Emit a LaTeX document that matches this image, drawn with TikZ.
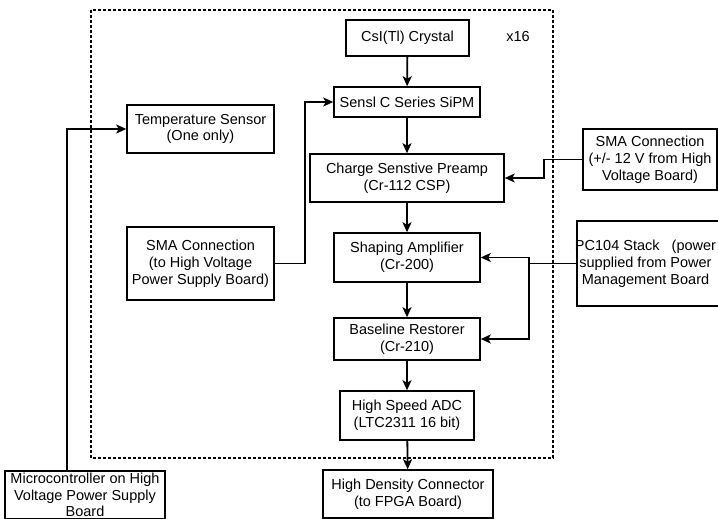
\documentclass[tikz,border=0pt]{standalone}
\usepackage{fontspec}
\setmainfont{Liberation Sans}
\usetikzlibrary{arrows.meta}
\begin{document}
\begin{tikzpicture}[x=1pt,y=-1pt,
  box/.style={draw, line width=1.5pt, inner sep=0pt, align=center, font=\fontsize{14.5}{16.8}\selectfont},
  lbl/.style={inner sep=0pt, align=center, font=\fontsize{14.5}{16.8}\selectfont},
  arr/.style={line width=1.8pt, -{Stealth[length=10pt,width=9pt,inset=2.5pt]}},
  wire/.style={line width=1.8pt},
  frame/.style={line width=1.3pt, dash pattern=on 3pt off 2pt}]
\useasboundingbox (0,0) rectangle (718,519);
\draw[frame] (91,10) rectangle (553,458);

\node[box, minimum width=123pt, minimum height=36pt] (csi) at (407.5,38) {CsI(Tl) Crystal};
\node[lbl] (x16) at (518,37) {x16};
\node[box, minimum width=146pt, minimum height=30pt] (sipm) at (407,102) {Sensl C Series SiPM};
\node[box, minimum width=194pt, minimum height=48pt] (csp) at (407,178) {Charge Senstive Preamp\\(Cr-112 CSP)};
\node[box, minimum width=146pt, minimum height=49pt] (shape) at (407,257.5) {Shaping Amplifier\\(Cr-200)};
\node[box, minimum width=146pt, minimum height=42pt] (blr) at (407,339) {Baseline Restorer\\(Cr-210)};
\node[box, minimum width=134pt, minimum height=49pt] (adc) at (407,415.5) {High Speed ADC\\(LTC2311 16 bit)};
\node[box, minimum width=170pt, minimum height=48pt] (hd) at (408,494) {High Density Connector\\(to FPGA Board)};

\node[box, minimum width=147pt, minimum height=48pt] (temp) at (200.5,129) {Temperature Sensor\\(One only)};
\node[box, minimum width=147pt, minimum height=73pt] (smal) at (200.5,263.5) {SMA Connection\\(to High Voltage\\Power Supply Board)};
\node[box, minimum width=160pt, minimum height=48pt] (micro) at (85,495) {Microcontroller on High\\Voltage Power Supply\\Board};

\node[box, minimum width=134pt, minimum height=61pt] (smar) at (650,159.5) {SMA Connection\\(+/- 12 V from High\\Voltage Board)};
\node[box, minimum width=145pt, minimum height=85pt] (pc) at (649.5,263.5) {};
\node[lbl] (pctext) at (645.5,263.5) {PC104 Stack\ \ \ (power\\supplied from Power\\Management Board};

\draw[arr] (csi) -- (sipm);
\draw[arr] (sipm) -- (csp);
\draw[arr] (csp) -- (shape);
\draw[arr] (shape) -- (blr);
\draw[arr] (blr) -- (adc);
\draw[arr] (adc) -- (hd);

\draw[arr] ([xshift=-18pt]micro.north) |- (temp.west);
\draw[arr] (smal.east) -- ++(30,0) |- (sipm.west);
\draw[arr] (smar.west) -- ++(-38,0) |- (csp.east);
\coordinate (j) at (529,263.5);
\draw[wire] (pc.west) -- (j);
\draw[arr] (j) |- (shape.east);
\draw[arr] (j) |- (blr.east);
\end{tikzpicture}
\end{document}
